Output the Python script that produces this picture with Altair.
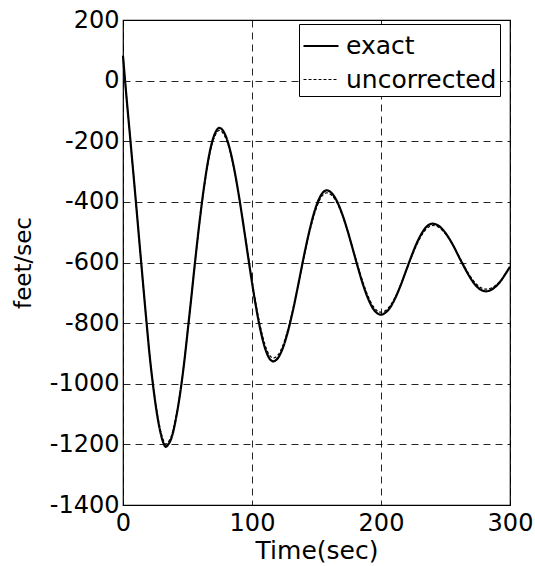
import altair as alt
import pandas as pd

# Time (sec) samples
t = [0, 1.6, 5.8, 10, 14.1, 18.3, 20.5, 23, 26, 29, 31.3, 33.1, 35.1, 37.5, 41, 45.5,
     48, 50.6, 53, 55.3, 58, 61, 64, 67.4, 71, 74.7, 78.5, 82, 86, 90, 94, 98, 102, 106,
     110, 113, 116.5, 120, 124, 128, 132, 136, 140, 144, 148, 152, 155, 157.9,
     162, 166, 170, 174, 178, 182, 186, 190, 194, 197, 199.8, 203, 207, 211,
     215, 219, 223, 227, 231, 235, 240, 244, 248, 252, 256, 260, 264, 268, 272,
     276, 281.4, 285, 289, 293, 296, 300]

exact = [82, 0, -200, -400, -600, -800, -900, -995, -1090, -1160, -1195, -1208, -1200,
         -1180, -1116, -995, -909, -808, -714, -620, -515, -408, -316, -232, -177, -156,
         -172, -213, -287, -384, -495, -610, -719, -812, -881, -913, -926, -916, -881,
         -825, -753, -670, -584, -505, -438, -390, -369, -362, -372, -399, -441, -494,
         -554, -615, -672, -719, -753, -767, -772, -767, -749, -718, -678, -632,
         -586, -543, -508, -483, -472, -477, -492, -515, -544, -578, -611, -642,
         -668, -686, -695, -691, -679, -660, -641, -614]

uncorrected = [82, 0, -200, -400, -600, -800, -899, -992, -1084, -1152, -1186, -1199, -1192,
               -1172, -1110, -993, -908, -808, -715, -622, -519, -413, -322, -239, -185, -164,
               -180, -219, -290, -384, -492, -604, -711, -802, -870, -902, -915, -906, -873,
               -818, -749, -670, -588, -511, -446, -398, -377, -370, -379, -404, -444, -494,
               -552, -610, -665, -711, -745, -759, -764, -760, -743, -714, -676, -633,
               -589, -548, -514, -490, -478, -482, -496, -517, -544, -576, -607, -637,
               -662, -679, -688, -685, -675, -658, -640, -616]

series = ["exact", "uncorrected"]
x_ticks = [0, 100, 200, 300]
y_ticks = [-1400, -1200, -1000, -800, -600, -400, -200, 0, 200]

df = pd.DataFrame({
    "t": t + t,
    "v": exact + uncorrected,
    "series": [series[0]] * len(t) + [series[1]] * len(t),
})

FONT = "DejaVu Sans"

legend = alt.Legend(
    title=None, orient="none", legendX=176, legendY=4,
    symbolType="stroke", symbolSize=1225, symbolStrokeColor="black",
    labelFont=FONT, labelFontSize=25, labelColor="black", labelOffset=6,
    strokeColor="black", fillColor="white", padding=3, rowPadding=2,
    cornerRadius=0, labelLimit=300,
)

chart = alt.Chart(df).mark_line(interpolate="monotone", color="black").encode(
    x=alt.X("t:Q", scale=alt.Scale(domain=[0, 300], nice=False, zero=False),
            axis=alt.Axis(values=x_ticks, title="Time(sec)", labelFlush=False,
                          labelExpr="datum.value + ''",
                          labelPadding=6, titlePadding=3, titleFontSize=25)),
    y=alt.Y("v:Q", scale=alt.Scale(domain=[-1400, 200], nice=False, zero=False),
            axis=alt.Axis(values=y_ticks, title="feet/sec", labelPadding=4,
                          labelExpr="datum.value + ''",
                          titlePadding=14, titleFontSize=23)),
    strokeDash=alt.StrokeDash("series:N", scale=alt.Scale(domain=series, range=[[1, 0], [3, 2]]),
                              legend=legend),
    strokeWidth=alt.StrokeWidth("series:N", scale=alt.Scale(domain=series, range=[2.2, 1.2]),
                                legend=legend),
    order=alt.Order("t:Q"),
).properties(
    width=387, height=485,
    background="white",
    autosize=alt.AutoSizeParams(type="none"),
    padding={"left": 123, "top": 20, "right": 25, "bottom": 61},
).configure_view(
    stroke="black", strokeWidth=1.2, fill="white",
).configure_axis(
    grid=True, gridColor="black", gridDash=[7, 5], gridWidth=1, gridOpacity=0.85,
    domain=False, ticks=False,
    labelFont=FONT, labelFontSize=24, labelColor="black",
    titleFont=FONT, titleFontWeight="normal", titleColor="black",
)

chart.save("out.html", embed_options={"renderer": "svg", "actions": False})
